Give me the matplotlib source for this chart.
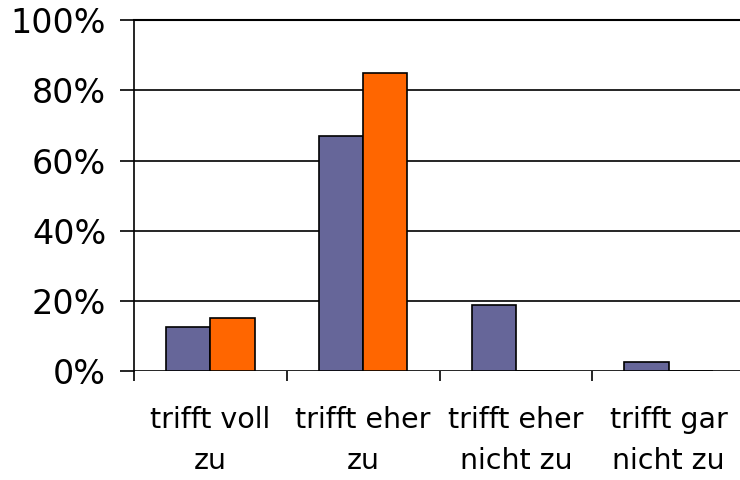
import numpy as np
import matplotlib
matplotlib.use('Agg')
import matplotlib.pyplot as plt
from matplotlib.ticker import FuncFormatter

categories = ["trifft voll\nzu", "trifft eher\nzu", "trifft eher\nnicht zu", "trifft gar\nnicht zu"]
series_a = [12.5, 67.0, 18.8, 2.5]
series_b = [15.1, 85.0, 0.0, 0.0]

purple = "#666699"
orange = "#FF6600"

fig = plt.figure(figsize=(7.4, 4.8), dpi=100)
ax = fig.add_axes([0.181, 0.227, 0.826, 0.731])

x = np.arange(len(categories))
w = 0.29
ax.bar(x - w/2, series_a, w, color=purple, edgecolor="black", linewidth=1.2, zorder=3)
ax.bar(x + w/2, series_b, w, color=orange, edgecolor="black", linewidth=1.2, zorder=3)

ax.set_xlim(-0.5, len(categories) - 0.5)
ax.set_ylim(0, 100)
ax.set_yticks(np.arange(0, 101, 20))
ax.yaxis.set_major_formatter(FuncFormatter(lambda v, p: "%d%%" % v))
ax.yaxis.grid(True, color="black", linewidth=1.2, zorder=0)

ax.set_xticks(np.arange(-0.5, len(categories), 1.0))
ax.set_xticklabels([])
ax.set_xticks(x, minor=True)
ax.set_xticklabels(categories, minor=True, fontsize=20.5, linespacing=1.6)
ax.tick_params(axis="x", which="minor", length=0, pad=25)
ax.tick_params(axis="x", which="major", length=7, width=1.2, direction="out")
ax.tick_params(axis="y", length=10, width=1.2, labelsize=24, pad=10)

for s in ["right", "bottom"]:
    ax.spines[s].set_visible(False)
ax.spines["top"].set_linewidth(1.5)
ax.spines["left"].set_linewidth(1.2)

fig.savefig("out.png", dpi=100)
